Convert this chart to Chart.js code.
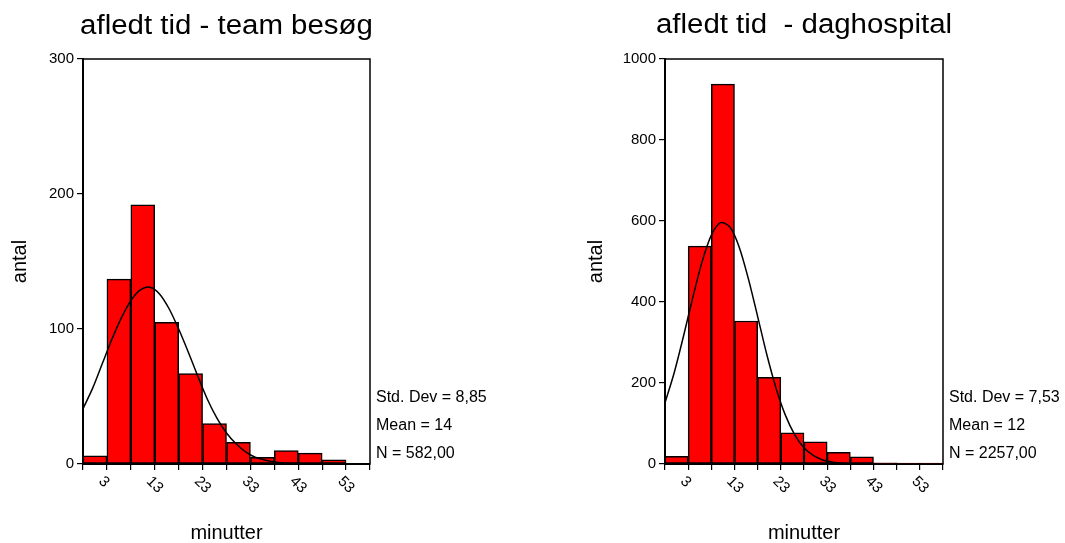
<!DOCTYPE html>
<html>
<head>
<meta charset="utf-8">
<script src="https://cdn.jsdelivr.net/npm/chart.js@4/dist/chart.umd.min.js"></script>
<style>
  html, body { margin: 0; padding: 0; background: #fff; }
  canvas { position: absolute; top: 0; }
  #left { left: 0; }
  #right { left: 532px; }
</style>
</head>
<body>
<canvas id="left" width="532" height="543"></canvas>
<canvas id="right" width="533" height="543"></canvas>
<script>
// bin centres (5 minute bins) and the labels shown under every other tick
const binCenters = [3, 8, 13, 18, 23, 28, 33, 38, 43, 48, 53, 58];
const tickLabels = ['3', '', '13', '', '23', '', '33', '', '43', '', '53', ''];

// team besøg
const teamCounts = [6, 137, 192, 105, 67, 30, 16, 5, 10, 8, 3, 0];
const teamCurveX = [0.5, 2.5, 4.5, 6.5, 8.5, 10.5, 12.5, 14.5, 16.5, 18.5, 20.5, 22.5,
                    24.5, 26.5, 28.5, 30.5, 32.5, 34.5, 36.5, 38.5, 40.5, 42.5, 44.5, 46.5];
const teamCurveY = [41, 56, 74, 92, 108, 121, 129, 131, 126, 115, 100, 83,
                    65, 48, 34, 23, 15, 9, 5, 3, 1.5, 0.7, 0.3, 0.1];
const teamStats = ['Std. Dev = 8,85', 'Mean = 14', 'N = 582,00'];

// daghospital
const dayCounts = [19, 538, 938, 353, 214, 77, 55, 29, 18, 3, 2, 2];
const dayCurveX = [0.5, 2.5, 4.5, 6.5, 8.5, 10.5, 12.5, 14.5, 16.5, 18.5, 20.5,
                   22.5, 24.5, 26.5, 28.5, 30.5, 32.5, 34.5, 36.5, 38.5, 40.5, 42.5];
const dayCurveY = [151, 226, 316, 411, 499, 565, 596, 585, 536, 457, 364,
                   269, 186, 120, 72, 40, 21, 10, 5, 2, 0.8, 0.3];
const dayStats = ['Std. Dev = 7,53', 'Mean = 12', 'N = 2257,00'];

const FONT = "'Liberation Sans', Arial, Helvetica, sans-serif";
Chart.defaults.font.family = FONT;
Chart.defaults.color = '#000';

// frame, title, stats box and the slanted x labels
const histDecor = {
    id: 'histDecor',
    afterDraw(chart, args, opts) {
        const ctx = chart.ctx;
        const a = chart.chartArea;
        const x = chart.scales.x;
        ctx.save();
        ctx.strokeStyle = '#000';
        ctx.lineWidth = 1.5;
        ctx.strokeRect(a.left, a.top, a.right - a.left, a.bottom - a.top);

        ctx.fillStyle = '#000';
        ctx.font = '27px ' + FONT;
        ctx.textAlign = 'center';
        ctx.textBaseline = 'alphabetic';
        ctx.save();
        ctx.translate((a.left + a.right) / 2, opts.titleY);
        ctx.scale(1.09, 1);
        ctx.fillText(opts.title, 0, 0);
        ctx.restore();

        ctx.font = '16px ' + FONT;
        ctx.textAlign = 'left';
        opts.stats.forEach((s, i) => ctx.fillText(s, a.right + 6, a.bottom - 62 + i * 28));

        ctx.font = '15px ' + FONT;
        ctx.textBaseline = 'middle';
        binCenters.forEach((v, i) => {
            if (!tickLabels[i]) return;
            ctx.save();
            ctx.translate(x.getPixelForValue(v) + 6, a.bottom + 15);
            ctx.rotate(Math.PI / 4);
            ctx.fillText(tickLabels[i], 0, 0);
            ctx.restore();
        });
        ctx.restore();
    }
};

function drawHistogram(id, o) {
    const context = document.getElementById(id).getContext('2d');
    return new Chart(context, {
        type: 'bar',
        data: {
            datasets: [{
                type: 'line',
                order: 0,
                data: o.curveX.map((v, i) => ({x: v, y: o.curveY[i]})),
                borderColor: '#000',
                borderWidth: 1.5,
                pointRadius: 0,
                tension: 0.3,
                fill: false
            }, {
                order: 1,
                data: binCenters.map((v, i) => ({x: v, y: o.counts[i]})),
                backgroundColor: '#ff0000',
                borderColor: '#000',
                borderWidth: 1.5,
                borderSkipped: false,
                barPercentage: 1,
                categoryPercentage: 1
            }]
        },
        options: {
            responsive: false,
            animation: false,
            layout: {padding: {top: 59, right: o.padRight, bottom: 0, left: 0}},
            plugins: {
                legend: {display: false},
                tooltip: {enabled: false},
                histDecor: {title: o.title, stats: o.stats, titleY: o.titleY}
            },
            scales: {
                x: {
                    type: 'linear',
                    min: 0.5,
                    max: 60.5,
                    offset: false,
                    afterBuildTicks: s => { s.ticks = binCenters.map(v => ({value: v})); },
                    afterFit: s => { s.height = 79; },
                    ticks: {display: false},
                    grid: {drawOnChartArea: false, drawTicks: true, tickLength: 6, color: '#000', lineWidth: 1.2},
                    border: {color: '#000', width: 2},
                    title: {display: true, text: 'minutter', font: {size: 20, lineHeight: 1}, padding: {top: 0, bottom: 0}}
                },
                y: {
                    min: 0,
                    max: o.yMax,
                    afterFit: s => { s.width = o.yWidth; },
                    ticks: {stepSize: o.yStep, font: {size: 15}, padding: 3, callback: v => String(v)},
                    grid: {drawOnChartArea: false, drawTicks: true, tickLength: 6, color: '#000', lineWidth: 1.2},
                    border: {color: '#000', width: 2},
                    title: {display: true, text: 'antal', font: {size: 20, lineHeight: 1}, padding: {top: o.yTitlePad, bottom: 0}}
                }
            }
        },
        plugins: [histDecor]
    });
}

drawHistogram('left', {
    title: 'afledt tid - team besøg', stats: teamStats, titleY: 34,
    counts: teamCounts, curveX: teamCurveX, curveY: teamCurveY,
    yMax: 300, yStep: 100, yWidth: 83, padRight: 162, yTitlePad: 10
});
drawHistogram('right', {
    title: 'afledt tid  - daghospital', stats: dayStats, titleY: 33,
    counts: dayCounts, curveX: dayCurveX, curveY: dayCurveY,
    yMax: 1000, yStep: 200, yWidth: 133, padRight: 122, yTitlePad: 54
});
</script>
</body>
</html>
